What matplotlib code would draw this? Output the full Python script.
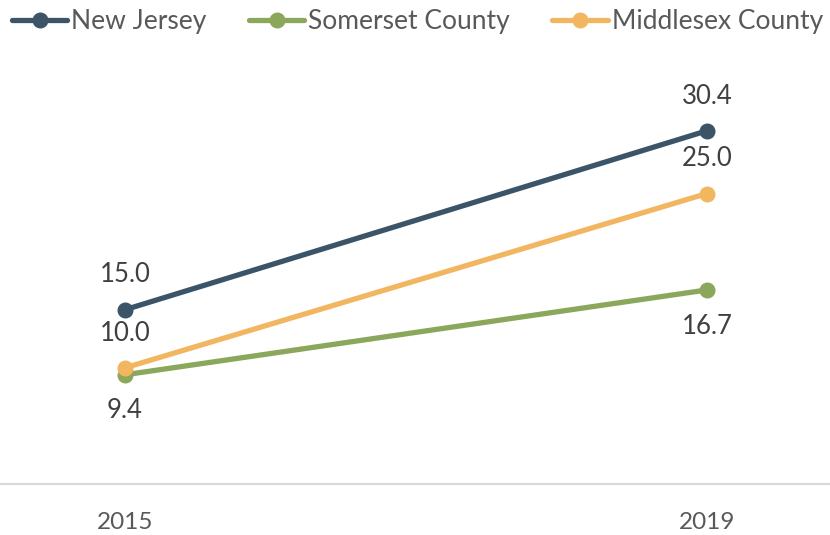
import matplotlib
matplotlib.use("Agg")
import matplotlib.pyplot as plt

years = ["2015", "2019"]
series_names = ["New Jersey", "Somerset County", "Middlesex County"]
new_jersey = [15.0, 30.4]
somerset = [9.4, 16.7]
middlesex = [10.0, 25.0]
label_pos = ["above", "below", "above"]
colors = ["#3B5468", "#8BA75B", "#F2B661"]

plt.rcParams['font.family'] = ['Lato', 'DejaVu Sans']

fig = plt.figure(figsize=(8.3, 5.35), dpi=100)
ax = fig.add_axes([0, 51/535, 1, (484-60)/535])

x = list(range(len(years)))
handles = []
for name, vals, col, pos in zip(series_names, [new_jersey, somerset, middlesex], colors, label_pos):
    h, = ax.plot(x, vals, color=col, lw=3.8, marker='o', markersize=10.5,
                 solid_capstyle='round', label=name)
    handles.append(h)
    for xi, v in zip(x, vals):
        off = 25 if pos == "above" else -26
        ax.annotate(f"{v:.1f}", (xi, v), xytext=(0, off), textcoords='offset points',
                    ha='center', va='center', fontsize=18.5, color='#404040')

ax.set_xlim(-125/582, (830-125)/582)
ax.set_ylim(0, 424/11.62)
ax.set_xticks(x)
ax.set_xticklabels(years, fontsize=17.5, color='#595959')
ax.tick_params(axis='x', length=0, pad=20)
ax.set_yticks([])
for s in ['top', 'right', 'left']:
    ax.spines[s].set_visible(False)
ax.spines['bottom'].set_color('#D9D9D9')
ax.spines['bottom'].set_linewidth(1.5)

leg = fig.legend(handles=handles, loc='center left', bbox_to_anchor=(12/830, 1 - 22/535), ncol=3,
                 frameon=False, fontsize=19, handlelength=2.1, handletextpad=0.15,
                 columnspacing=1.6, borderpad=0, borderaxespad=0)
for t in leg.get_texts():
    t.set_color('#595959')

fig.savefig("out.png", dpi=100)
